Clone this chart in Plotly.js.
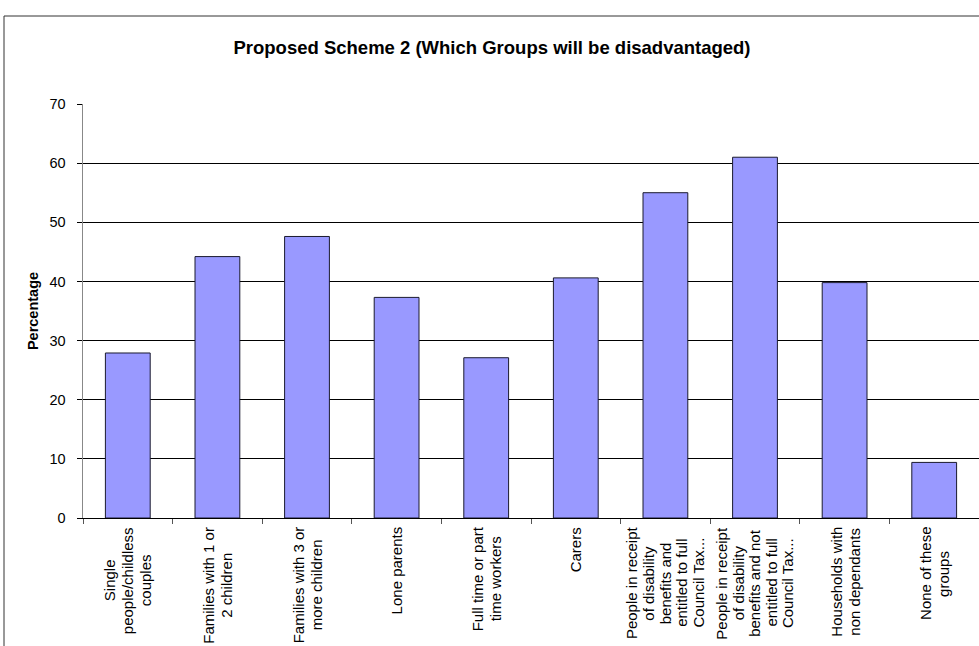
<!DOCTYPE html>
<html>
<head>
<meta charset="utf-8">
<script src="https://cdn.plot.ly/plotly-3.0.1.min.js"></script>
<style>html,body{margin:0;padding:0;background:#fff;}#chart{width:979px;height:646px;}</style>
</head>
<body>
<div id="chart"></div>
<script>
const categoryLines = [
  ["Single", "people/childless", "couples"],
  ["Families with 1 or", "2 children"],
  ["Families with 3 or", "more children"],
  ["Lone parents"],
  ["Full time or part", "time workers"],
  ["Carers"],
  ["People in receipt", "of disability", "benefits and", "entitled to full", "Council Tax..."],
  ["People in receipt", "of disability", "benefits and not", "entitled to full", "Council Tax..."],
  ["Households with", "non dependants"],
  ["None of these", "groups"]
];
const catKeys = ["c0","c1","c2","c3","c4","c5","c6","c7","c8","c9"];
const percentages = [27.9, 44.2, 47.6, 37.3, 27.1, 40.6, 55.0, 61.0, 39.8, 9.4];
const yTicks = [0, 10, 20, 30, 40, 50, 60, 70];

const FONT = "Arial, 'Liberation Sans', sans-serif";
const LABEL_SIZE = 15;

const trace = {
  type: "bar",
  x: catKeys,
  y: percentages,
  width: 0.5,
  marker: {color: "#9999FF", line: {color: "#1a1a2e", width: 1}},
  hoverinfo: "none"
};

// measure text widths so that multi-line rotated labels are centred line by line
const ctx = document.createElement("canvas").getContext("2d");
ctx.font = LABEL_SIZE + "px 'Liberation Sans', Arial, sans-serif";
const annotations = [];
categoryLines.forEach((lines, i) => {
  const widths = lines.map(t => ctx.measureText(t).width);
  const maxW = Math.max(...widths);
  const n = lines.length;
  const spacing = n >= 5 ? 16.6 : 18;
  lines.forEach((t, j) => {
    annotations.push({
      x: catKeys[i], xref: "x",
      y: 0, yref: "paper",
      xanchor: "center", yanchor: "middle",
      xshift: (j - (n - 1) / 2) * spacing,
      yshift: -(9 + maxW / 2),
      text: t,
      textangle: -90,
      showarrow: false,
      borderpad: 0,
      font: {family: FONT, size: LABEL_SIZE, color: "#000"}
    });
  });
});

const layout = {
  width: 979, height: 646,
  margin: {l: 83, r: 0, t: 104, b: 128, pad: 0},
  paper_bgcolor: "#fff", plot_bgcolor: "#fff",
  showlegend: false,
  bargap: 0.5,
  title: {
    text: "<b>Proposed Scheme 2 (Which Groups will be disadvantaged)</b>",
    font: {family: FONT, size: 18.5, color: "#000"},
    x: 492/979, xref: "container", xanchor: "center",
    y: 1 - 48/646, yref: "container", yanchor: "middle"
  },
  xaxis: {
    type: "category",
    range: [-0.5, 9.5],
    showticklabels: false,
    ticks: "outside", tickson: "boundaries", ticklen: 5, tickcolor: "#555",
    showline: true, linecolor: "#000", linewidth: 1,
    showgrid: false, zeroline: false, fixedrange: true
  },
  yaxis: {
    range: [0, 70],
    tickvals: yTicks,
    ticktext: yTicks.map(String),
    ticks: "outside", ticklen: 5, tickcolor: "#000",
    ticklabelstandoff: 8,
    showline: true, linecolor: "#888", linewidth: 1.5,
    showgrid: true, gridcolor: "#000", gridwidth: 1,
    zeroline: false,
    tickfont: {family: FONT, size: 14.5, color: "#000"},
    title: {text: "<b>Percentage</b>", font: {family: FONT, size: 14.5, color: "#000"}, standoff: 7},
    fixedrange: true
  },
  annotations: annotations,
  shapes: [{
    type: "rect", xref: "paper", yref: "paper",
    x0: (4 - 83) / 896, x1: 1.1,
    y0: -0.6, y1: (518 - 16) / 414,
    line: {color: "#333", width: 1}, fillcolor: "rgba(0,0,0,0)", layer: "below"
  }]
};

Plotly.newPlot("chart", [trace], layout, {displayModeBar: false, staticPlot: true});
</script>
</body>
</html>
